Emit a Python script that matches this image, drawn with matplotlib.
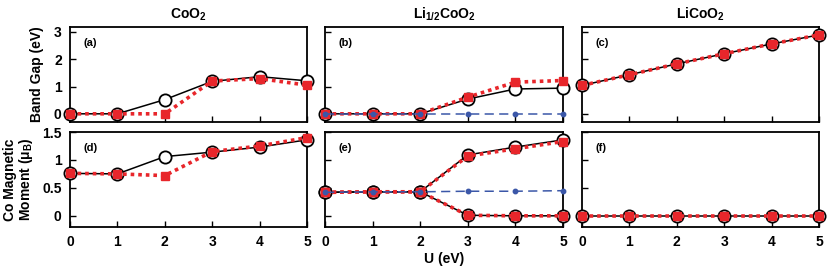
import matplotlib
matplotlib.use("Agg")
import matplotlib.pyplot as plt

plt.rcParams['font.family'] = ['Liberation Sans', 'DejaVu Sans']
plt.rcParams['font.weight'] = 'bold'
plt.rcParams['mathtext.fontset'] = 'custom'
plt.rcParams['mathtext.rm'] = 'Liberation Sans:bold'
plt.rcParams['mathtext.bf'] = 'Liberation Sans:bold'
plt.rcParams['mathtext.it'] = 'Liberation Sans:bold'

U = [0, 1, 2, 3, 4, 5]
titles = [r'CoO$_\mathregular{2}$', r'Li$_\mathregular{1/2}$CoO$_\mathregular{2}$', r'LiCoO$_\mathregular{2}$']

# Band gap (eV)
gap_coo2_black = [0, 0, 0.52, 1.19, 1.36, 1.21]
gap_coo2_red = [0, 0, 0, 1.2, 1.29, 1.05]
gap_li12_black = [0, 0, 0, 0.54, 0.91, 0.94]
gap_li12_red = [0, 0, 0, 0.61, 1.16, 1.22]
gap_li12_blue = [0, 0, 0, 0, 0, 0]
gap_lico_black = [1.04, 1.43, 1.83, 2.2, 2.56, 2.89]
gap_lico_red = [1.04, 1.43, 1.83, 2.2, 2.56, 2.89]

# Co magnetic moment (muB)
mom_coo2_black = [0.76, 0.75, 1.06, 1.14, 1.23, 1.36]
mom_coo2_red = [0.76, 0.75, 0.72, 1.15, 1.25, 1.40]
mom_li12_black_up = [0.42, 0.43, 0.43, 1.09, 1.23, 1.36]
mom_li12_red_up = [0.42, 0.43, 0.43, 1.07, 1.20, 1.33]
mom_li12_black_dn = [0.42, 0.43, 0.43, 0.01, 0.0, 0.0]
mom_li12_red_dn = [0.42, 0.43, 0.43, 0.01, 0.0, 0.0]
mom_li12_blue = [0.42, 0.43, 0.43, 0.44, 0.44, 0.45]
mom_lico_black = [0, 0, 0, 0, 0, 0]
mom_lico_red = [0, 0, 0, 0, 0, 0]

panel_labels = ['(a)', '(b)', '(c)', '(d)', '(e)', '(f)']

RED = '#e8262b'
BLUE = '#3b57a8'
FS = 10

W, H = 830, 272
fig = plt.figure(figsize=(W / 100, H / 100), dpi=100)

lefts = [70, 325, 582]
widths = [237, 238, 237]
tops = [27, 132]
h = 95


def ax_at(l, t, w, hh):
    return fig.add_axes([l / W, 1 - (t + hh) / H, w / W, hh / H])


def black(ax, y):
    ax.plot(U, y, color='black', lw=1.1, marker='o', ms=8.8, mfc='white',
            mec='black', mew=1.3, clip_on=False, zorder=3)


def red(ax, y):
    ax.plot(U, y, color=RED, lw=2.6, dashes=(1, 1.1), marker='s', ms=5.2,
            mfc=RED, mec=RED, clip_on=False, zorder=4)


def blue(ax, y):
    ax.plot(U, y, color=BLUE, lw=1.1, dashes=(6, 3.5), marker='o', ms=3.2,
            mfc=BLUE, mec=BLUE, clip_on=False, zorder=5)


axes = []
for r in range(2):
    for c in range(3):
        ax = ax_at(lefts[c], tops[r], widths[c], h)
        axes.append(ax)
        ax.set_xlim(0, 5)
        ax.set_xticks(U)
        if r == 0:
            ax.set_ylim(-0.3, 3.18)
            ax.set_yticks([0, 1, 2, 3])
            ax.set_yticklabels(['0', '1', '2', '3'] if c == 0 else [])
            ax.set_xticklabels([])
            ax.set_title(titles[c], fontsize=FS, fontweight='bold', pad=6)
        else:
            ax.set_ylim(-0.2, 1.5)
            ax.set_yticks([0, 0.5, 1, 1.5])
            ax.set_yticklabels(['0', '0.5', '1', '1.5'] if c == 0 else [])
            ax.set_xticklabels([str(u) for u in U])
        ax.tick_params(direction='in', length=4, width=1.0, labelsize=FS,
                       top=False, right=False)
        ax.tick_params(axis='x', pad=6)
        ax.tick_params(axis='y', pad=6)
        for lab in ax.get_xticklabels() + ax.get_yticklabels():
            lab.set_fontweight('bold')
        for s in ax.spines.values():
            s.set_linewidth(1.3)
        ax.text(0.055, 0.83, panel_labels[r * 3 + c], transform=ax.transAxes,
                fontsize=8, fontweight='bold', va='center', ha='left')

a, b, c, d, e, f = axes
black(a, gap_coo2_black); red(a, gap_coo2_red)
black(b, gap_li12_black); red(b, gap_li12_red); blue(b, gap_li12_blue)
black(c, gap_lico_black); red(c, gap_lico_red)
black(d, mom_coo2_black); red(d, mom_coo2_red)
black(e, mom_li12_black_up); black(e, mom_li12_black_dn)
red(e, mom_li12_red_up); red(e, mom_li12_red_dn); blue(e, mom_li12_blue)
black(f, mom_lico_black); red(f, mom_lico_red)

a.set_ylabel('Band Gap (eV)', fontsize=FS, fontweight='bold', labelpad=7)
d.set_ylabel('Co Magnetic\nMoment (' + r'$\mathregular{\mu_B}$' + ')',
             fontsize=FS, fontweight='bold', labelpad=5, linespacing=1.0)
e.set_xlabel('U (eV)', fontsize=FS, fontweight='bold', labelpad=2)

fig.savefig('out.png', dpi=100)
